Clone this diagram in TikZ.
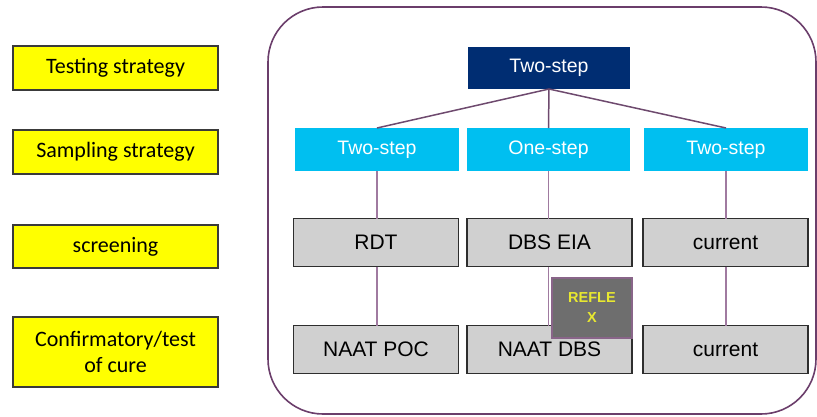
\documentclass[tikz,border=0pt]{standalone}
\usepackage{fontspec}
\setmainfont{Liberation Sans}
\newfontfamily\carlito{Carlito}
\definecolor{ybox}{HTML}{FFFF00}
\definecolor{yborder}{HTML}{3A3A3A}
\definecolor{navy}{HTML}{002D72}
\definecolor{cyanbox}{HTML}{00BFF0}
\definecolor{graybox}{HTML}{D0D0D0}
\definecolor{grayborder}{HTML}{2E2E2E}
\definecolor{frame}{HTML}{6B3E6B}
\definecolor{linkdark}{HTML}{6E4A6E}
\definecolor{linklight}{HTML}{A07AA0}
\definecolor{reflexfill}{HTML}{6E6E6E}
\definecolor{reflextext}{HTML}{E8E830}
\tikzset{
  every node/.style={inner sep=0pt, outer sep=0pt},
  label box/.style={draw=yborder, line width=1.6pt, fill=ybox, minimum width=205pt, font=\carlito\fontsize{22}{26}\selectfont, align=center},
  top box/.style={fill=navy, minimum width=162pt, minimum height=42pt, text=white, font=\fontsize{19.5}{22}\selectfont},
  mid box/.style={fill=cyanbox, minimum width=164pt, minimum height=43pt, text=white, font=\fontsize{19.5}{22}\selectfont},
  test box/.style={draw=grayborder, line width=1.8pt, fill=graybox, minimum width=165pt, minimum height=48pt, text=black, font=\fontsize{21}{24}\selectfont},
  reflex box/.style={draw=frame!80, line width=1.4pt, fill=reflexfill, minimum width=80pt, minimum height=60pt, text=reflextext, align=center, font=\bfseries\fontsize{14.5}{20}\selectfont},
  upper link/.style={draw=linkdark, line width=1.5pt},
  lower link/.style={draw=linklight, line width=1.5pt}
}
\begin{document}
\begin{tikzpicture}[x=1pt, y=-1pt]
\useasboundingbox (0,0) rectangle (817,416);
% frame
\draw[frame, line width=1.6pt, rounded corners=55pt] (268,7) rectangle (816,414);
% left labels
\node[label box, minimum height=44pt] (l1) at (115.5,68) {Testing strategy};
\node[label box, minimum height=44pt] (l2) at (115.5,152) {Sampling strategy};
\node[label box, minimum height=43pt] (l3) at (115.5,246.5) {screening};
\node[label box, minimum height=70pt] (l4) at (115.5,352) {Confirmatory/test\\of cure};
% tree
\node[top box] (top) at (549,68) {Two-step};
\node[mid box] (c1) at (377,149.5) {Two-step};
\node[mid box, minimum width=163pt] (c2) at (548.5,149.5) {One-step};
\node[mid box] (c3) at (726,149.5) {Two-step};
\node[test box] (g1) at (376,242.5) {RDT};
\node[test box] (g2) at (549.5,242.5) {DBS EIA};
\node[test box] (g3) at (725.5,242.5) {current};
\node[test box] (n1) at (376,349.5) {NAAT POC};
\node[test box] (n2) at (549.5,349.5) {NAAT DBS};
\node[test box] (n3) at (725.5,349.5) {current};
% links
\draw[upper link] (top.south) -- (c1.north);
\draw[upper link] (top.south) -- (c2.north);
\draw[upper link] (top.south) -- (c3.north);
\draw[lower link] (c1.south) -- (g1.north -| c1.south);
\draw[lower link] (c2.south) -- (g2.north -| c2.south);
\draw[lower link] (c3.south) -- (g3.north -| c3.south);
\draw[lower link] (g1.south -| c1.south) -- (n1.north -| c1.south);
\draw[lower link] (g2.south -| c2.south) -- (n2.north -| c2.south);
\draw[lower link] (g3.south -| c3.south) -- (n3.north -| c3.south);
% reflex
\node[reflex box] (rx) at (592,308) {REFLE\\X};
\end{tikzpicture}
\end{document}
